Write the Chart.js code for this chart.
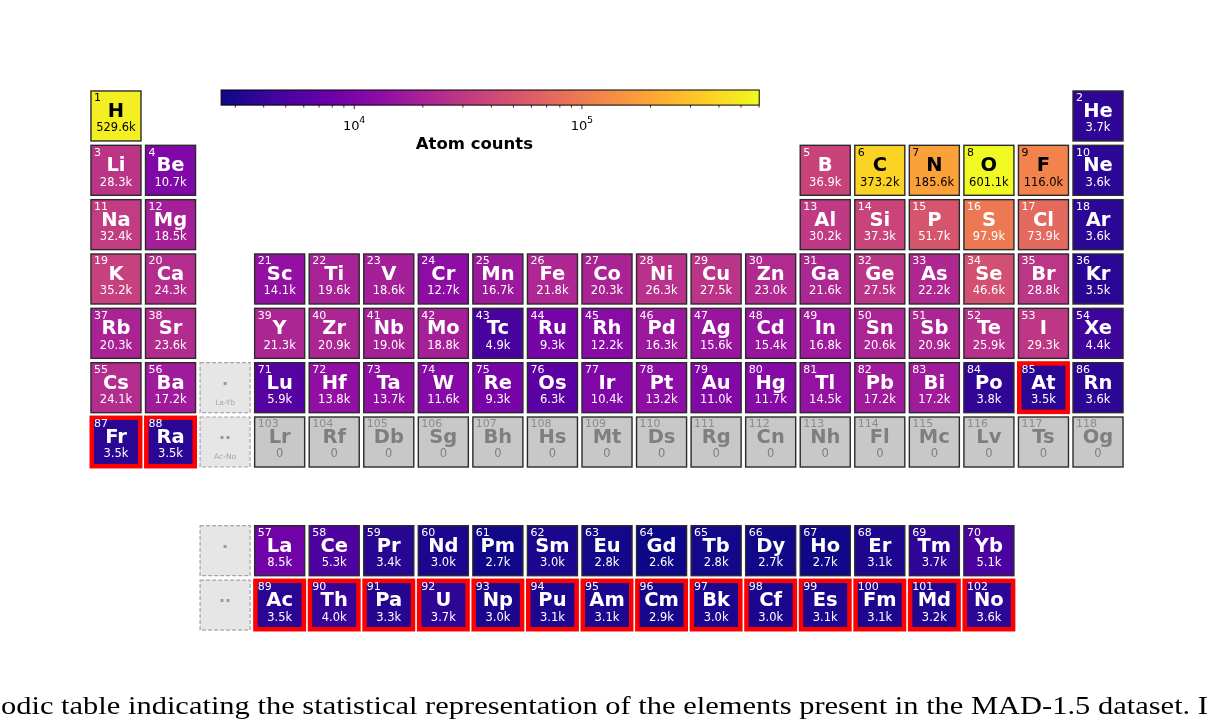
<!DOCTYPE html>
<html>
<head>
<meta charset="utf-8">
<script src="https://cdn.jsdelivr.net/npm/chart.js@4/dist/chart.umd.min.js"></script>
<style>
  html, body { margin: 0; padding: 0; background: #fff; overflow: hidden; }
</style>
</head>
<body>
<canvas id="chart" width="1212" height="722"></canvas>
<script>
var ctx = document.getElementById('chart').getContext('2d')

// element symbols, Z = index + 1
const symbols = [
  'H', 'He', 'Li', 'Be', 'B', 'C', 'N', 'O', 'F', 'Ne',
  'Na', 'Mg', 'Al', 'Si', 'P', 'S', 'Cl', 'Ar',
  'K', 'Ca', 'Sc', 'Ti', 'V', 'Cr', 'Mn', 'Fe', 'Co', 'Ni', 'Cu', 'Zn', 'Ga', 'Ge', 'As', 'Se', 'Br', 'Kr',
  'Rb', 'Sr', 'Y', 'Zr', 'Nb', 'Mo', 'Tc', 'Ru', 'Rh', 'Pd', 'Ag', 'Cd', 'In', 'Sn', 'Sb', 'Te', 'I', 'Xe',
  'Cs', 'Ba', 'La', 'Ce', 'Pr', 'Nd', 'Pm', 'Sm', 'Eu', 'Gd', 'Tb', 'Dy', 'Ho', 'Er', 'Tm', 'Yb',
  'Lu', 'Hf', 'Ta', 'W', 'Re', 'Os', 'Ir', 'Pt', 'Au', 'Hg', 'Tl', 'Pb', 'Bi', 'Po', 'At', 'Rn',
  'Fr', 'Ra', 'Ac', 'Th', 'Pa', 'U', 'Np', 'Pu', 'Am', 'Cm', 'Bk', 'Cf', 'Es', 'Fm', 'Md', 'No',
  'Lr', 'Rf', 'Db', 'Sg', 'Bh', 'Hs', 'Mt', 'Ds', 'Rg', 'Cn', 'Nh', 'Fl', 'Mc', 'Lv', 'Ts', 'Og',
]

// atom counts in thousands, Z = index + 1
const countsK = [
  529.6, 3.7, 28.3, 10.7, 36.9, 373.2, 185.6, 601.1, 116.0, 3.6,
  32.4, 18.5, 30.2, 37.3, 51.7, 97.9, 73.9, 3.6,
  35.2, 24.3, 14.1, 19.6, 18.6, 12.7, 16.7, 21.8, 20.3, 26.3, 27.5, 23.0, 21.6, 27.5, 22.2, 46.6, 28.8, 3.5,
  20.3, 23.6, 21.3, 20.9, 19.0, 18.8, 4.9, 9.3, 12.2, 16.3, 15.6, 15.4, 16.8, 20.6, 20.9, 25.9, 29.3, 4.4,
  24.1, 17.2, 8.5, 5.3, 3.4, 3.0, 2.7, 3.0, 2.8, 2.6, 2.8, 2.7, 2.7, 3.1, 3.7, 5.1,
  5.9, 13.8, 13.7, 11.6, 9.3, 6.3, 10.4, 13.2, 11.0, 11.7, 14.5, 17.2, 17.2, 3.8, 3.5, 3.6,
  3.5, 3.5, 3.5, 4.0, 3.3, 3.7, 3.0, 3.1, 3.1, 2.9, 3.0, 3.0, 3.1, 3.1, 3.2, 3.6,
  0, 0, 0, 0, 0, 0, 0, 0, 0, 0, 0, 0, 0, 0, 0, 0,
]

// elements outlined in red
const flagged = [85, 87, 88, 89, 90, 91, 92, 93, 94, 95, 96, 97, 98, 99, 100, 101, 102]

// placeholder cells for the f-block
const placeholderMarks = ['·', '··']
const placeholderLabels = ['La-Yb', 'Ac-No']

// colorbar
const cbMin = 2.6
const cbMax = 601.1
const cbTicks = [10, 100]
const cbTickLabels = ['4', '5']
const cbTitle = 'Atom counts'

const caption = 'odic table indicating the statistical representation of the elements present in the MAD-1.5 dataset. I'

// plasma colormap stops
const plasma = ['#0d0887', '#41049d', '#6a00a8', '#8f0da4', '#b12a90', '#cc4778',
  '#e16462', '#f2844b', '#fca636', '#fcce25', '#f0f921']

function hexToRgb(h) {
  return [parseInt(h.substr(1, 2), 16), parseInt(h.substr(3, 2), 16), parseInt(h.substr(5, 2), 16)]
}

function plasmaColor(t) {
  t = Math.max(0, Math.min(1, t))
  const p = t * (plasma.length - 1)
  const i = Math.min(Math.floor(p), plasma.length - 2)
  const f = p - i
  const a = hexToRgb(plasma[i])
  const b = hexToRgb(plasma[i + 1])
  const c = a.map((v, k) => Math.round(v + (b[k] - v) * f))
  return 'rgb(' + c.join(',') + ')'
}

function norm(vk) {
  return (Math.log10(vk) - Math.log10(cbMin)) / (Math.log10(cbMax) - Math.log10(cbMin))
}

// column / row in the table layout (column 3 holds the f-block placeholders)
function position(z) {
  if (z === 1) return [1, 1]
  if (z === 2) return [19, 1]
  if (z <= 4) return [z - 2, 2]
  if (z <= 10) return [z + 9, 2]
  if (z <= 12) return [z - 10, 3]
  if (z <= 18) return [z + 1, 3]
  if (z <= 20) return [z - 18, 4]
  if (z <= 36) return [z - 17, 4]
  if (z <= 38) return [z - 36, 5]
  if (z <= 54) return [z - 35, 5]
  if (z <= 56) return [z - 54, 6]
  if (z <= 70) return [z - 53, 9]
  if (z <= 86) return [z - 67, 6]
  if (z <= 88) return [z - 86, 7]
  if (z <= 102) return [z - 85, 10]
  return [z - 99, 7]
}

const cells = symbols.map((s, i) => {
  const pos = position(i + 1)
  return { x: pos[0], y: pos[1], z: i + 1, s: s, v: countsK[i] }
})

const placeholders = [
  { x: 3, y: 6, k: 0 },
  { x: 3, y: 7, k: 1 },
  { x: 3, y: 9, k: 0 },
  { x: 3, y: 10, k: 1 },
]

const FONT = '"DejaVu Sans", sans-serif'

const tablePlugin = {
  id: 'table',
  afterDatasetsDraw(chart) {
    const c = chart.ctx
    const xs = chart.scales.x
    const ys = chart.scales.y
    const w = (xs.getPixelForValue(1) - xs.getPixelForValue(0)) * 0.917
    const h = (ys.getPixelForValue(1) - ys.getPixelForValue(0)) * 0.92

    c.save()
    c.textAlign = 'center'
    c.textBaseline = 'middle'

    // placeholders
    chart.getDatasetMeta(1).data.forEach((pt, i) => {
      const d = placeholders[i]
      const x0 = pt.x - w / 2
      const y0 = pt.y - h / 2
      c.fillStyle = '#e6e6e6'
      c.fillRect(x0, y0, w, h)
      c.setLineDash([4, 2])
      c.strokeStyle = '#a6a6a6'
      c.lineWidth = 1.2
      c.strokeRect(x0, y0, w, h)
      c.setLineDash([])
      c.fillStyle = '#999999'
      c.font = 'bold 16px ' + FONT
      c.fillText(placeholderMarks[d.k], pt.x, y0 + 22)
      if (d.y <= 7) {
        c.font = '7.5px ' + FONT
        c.fillStyle = '#a6a6a6'
        c.fillText(placeholderLabels[d.k], pt.x, y0 + 40)
      }
    })

    // element cells
    chart.getDatasetMeta(0).data.forEach((pt, i) => {
      const d = cells[i]
      const x0 = pt.x - w / 2
      const y0 = pt.y - h / 2
      let fill, txt, numTxt
      if (d.v > 0) {
        fill = plasmaColor(norm(d.v))
        txt = d.v >= 100 ? '#000000' : '#ffffff'
        numTxt = txt
      } else {
        fill = '#c8c8c8'
        txt = '#7f7f7f'
        numTxt = '#8c8c8c'
      }
      c.fillStyle = fill
      c.fillRect(x0, y0, w, h)
      c.strokeStyle = '#2b2b2b'
      c.lineWidth = 1.4
      c.strokeRect(x0, y0, w, h)
      if (flagged.indexOf(d.z) >= 0) {
        c.strokeStyle = '#ff0000'
        c.lineWidth = 4.5
        c.strokeRect(x0 + 0.8, y0 + 0.8, w - 1.6, h - 1.6)
      }
      c.textAlign = 'left'
      c.fillStyle = numTxt
      c.font = '11px ' + FONT
      c.fillText(String(d.z), x0 + 3, y0 + 7.5)
      c.textAlign = 'center'
      c.fillStyle = txt
      c.font = 'bold 19.5px ' + FONT
      c.fillText(d.s, pt.x, y0 + 21)
      c.font = '11.5px ' + FONT
      c.fillText(d.v > 0 ? d.v.toFixed(1) + 'k' : '0', pt.x, y0 + 37.5)
    })

    // colorbar
    const cx0 = xs.getPixelForValue(2.927)
    const cx1 = xs.getPixelForValue(12.79)
    const cy0 = ys.getPixelForValue(0.522)
    const cy1 = ys.getPixelForValue(0.8)
    const grad = c.createLinearGradient(cx0, 0, cx1, 0)
    plasma.forEach((col, k) => grad.addColorStop(k / (plasma.length - 1), col))
    c.fillStyle = grad
    c.fillRect(cx0, cy0, cx1 - cx0, cy1 - cy0)
    c.strokeStyle = '#000000'
    c.lineWidth = 1
    c.strokeRect(cx0, cy0, cx1 - cx0, cy1 - cy0)

    const vx = (vk) => cx0 + norm(vk) * (cx1 - cx0)
    c.strokeStyle = '#000000'
    c.lineWidth = 0.8
    for (let dec = 1; dec <= 1000; dec *= 10) {
      for (let m = 1; m < 10; m++) {
        const vk = m * dec
        if (vk < cbMin || vk > cbMax) continue
        const px = vx(vk)
        const len = m === 1 ? 4 : 2.5
        c.beginPath()
        c.moveTo(px, cy1)
        c.lineTo(px, cy1 + len)
        c.stroke()
      }
    }
    c.fillStyle = '#000000'
    cbTicks.forEach((vk, k) => {
      const px = vx(vk)
      c.font = '13px ' + FONT
      c.textAlign = 'center'
      c.fillText('10', px - 3, cy1 + 22)
      c.font = '9.5px ' + FONT
      c.textAlign = 'left'
      c.fillText(cbTickLabels[k], px + 5, cy1 + 15)
    })
    c.textAlign = 'center'
    c.font = 'bold 16.5px ' + FONT
    c.fillText(cbTitle, xs.getPixelForValue(7.57), cy1 + 40)

    // caption (cut at the page edges), stretched to the page width
    c.font = '25px "Liberation Serif", "DejaVu Serif", serif'
    c.textAlign = 'left'
    c.textBaseline = 'alphabetic'
    const tw = c.measureText(caption).width
    c.translate(1, 714)
    c.scale(1207 / tw, 1)
    c.fillText(caption, 0, 0)
    c.restore()
  },
}

new Chart(ctx, {
  type: 'scatter',
  data: {
    datasets: [
      { data: cells, pointRadius: 0 },
      { data: placeholders, pointRadius: 0 },
    ],
  },
  options: {
    responsive: false,
    animation: false,
    devicePixelRatio: 1,
    layout: { padding: { left: 88.7, right: 86.7, top: 88.8, bottom: 89.8 } },
    scales: {
      x: { type: 'linear', min: 0.5, max: 19.5, display: false },
      y: { type: 'linear', min: 0.5, max: 10.5, reverse: true, display: false },
    },
    plugins: { legend: { display: false }, tooltip: { enabled: false } },
  },
  plugins: [tablePlugin],
})
</script>
</body>
</html>
